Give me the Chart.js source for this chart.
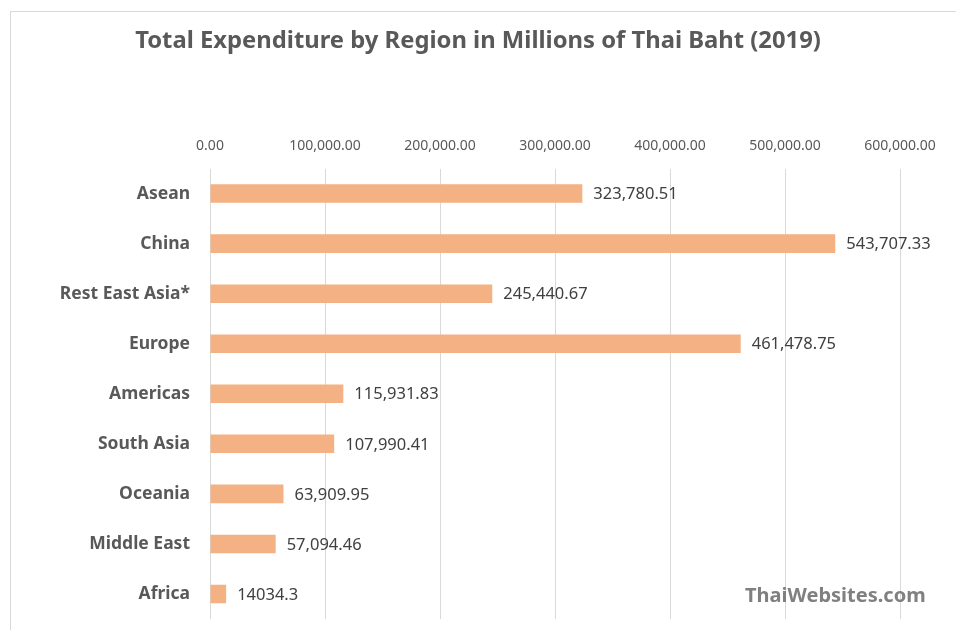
<!DOCTYPE html>
<html>
<head>
<meta charset="utf-8">
<script src="https://cdn.jsdelivr.net/npm/chart.js@4"></script>
<style>
  html, body { margin: 0; padding: 0; background: #fff; }
  #wrap { position: relative; width: 956px; height: 630px; overflow: hidden; }
  #frame { position: absolute; left: 10px; top: 11px; width: 980px; height: 660px; border: 1px solid #d9d9d9; }
  #chart { position: absolute; left: 0; top: 0; }
  #mark { position: absolute; left: 745px; top: 581px; font: bold 20px "Noto Sans", sans-serif; color: #808080; }
</style>
</head>
<body>
<div id="wrap">
  <div id="frame"></div>
  <canvas id="chart" width="956" height="630"></canvas>
  <div id="mark">ThaiWebsites.com</div>
</div>
<script>
// Spending by visitor region, millions of baht, 2019
const regions = ['Asean', 'China', 'Rest East Asia*', 'Europe', 'Americas', 'South Asia', 'Oceania', 'Middle East', 'Africa'];
const expenditure = [323780.51, 543707.33, 245440.67, 461478.75, 115931.83, 107990.41, 63909.95, 57094.46, 14034.3];
// Africa's figure is shown unformatted
const plainLabel = [false, false, false, false, false, false, false, false, true];
const tickValues = [0, 100000, 200000, 300000, 400000, 500000, 600000];

const fmt = (v) => v.toLocaleString('en-US', { minimumFractionDigits: 2, maximumFractionDigits: 2 });

// draws the value to the right of each bar
const barValues = {
    id: 'barValues',
    afterDatasetsDraw(chart) {
        const ctx = chart.ctx;
        const meta = chart.getDatasetMeta(0);
        ctx.save();
        ctx.font = '16.5px "Noto Sans", sans-serif';
        ctx.fillStyle = '#404040';
        ctx.textAlign = 'left';
        ctx.textBaseline = 'middle';
        meta.data.forEach((bar, i) => {
            const v = expenditure[i];
            const text = plainLabel[i] ? String(v) : fmt(v);
            ctx.fillText(text, bar.x + 11, bar.y + 1);
        });
        ctx.restore();
    }
};

const ctx = document.getElementById('chart').getContext('2d');
new Chart(ctx, {
    type: 'bar',
    data: {
        labels: regions,
        datasets: [{
            data: expenditure,
            backgroundColor: '#f4b183',
            barPercentage: 0.37,
            categoryPercentage: 1
        }]
    },
    options: {
        indexAxis: 'y',
        responsive: false,
        animation: false,
        layout: { autoPadding: false, padding: { top: 27, left: 10, right: 10, bottom: 11 } },
        plugins: {
            legend: { display: false },
            tooltip: { enabled: false },
            title: {
                display: true,
                text: 'Total Expenditure by Region in Millions of Thai Baht (2019)',
                color: '#595959',
                font: { family: '"Noto Sans", sans-serif', size: 23.8, weight: 'bold' },
                padding: { top: 0, bottom: 73 }
            }
        },
        scales: {
            x: {
                position: 'top',
                min: 0,
                max: 640000,
                afterBuildTicks(scale) { scale.ticks = tickValues.map(v => ({ value: v })); },
                afterFit(scale) {
                    scale.height = 40;
                    scale.paddingTop = scale.paddingBottom = 0;
                },
                grid: { color: '#d9d9d9', drawTicks: false },
                border: { display: false },
                ticks: {
                    color: '#595959',
                    padding: 14,
                    font: { family: '"Noto Sans", sans-serif', size: 14 },
                    callback: (v) => fmt(v)
                }
            },
            y: {
                afterFit(scale) {
                    scale.width = 200;
                    scale.paddingTop = scale.paddingBottom = 0;
                },
                grid: { display: false, drawTicks: false },
                border: { display: false },
                ticks: {
                    color: '#595959',
                    padding: 20,
                    font: { family: '"Noto Sans", sans-serif', size: 17.5, weight: 'bold' }
                }
            }
        }
    },
    plugins: [barValues]
});
</script>
</body>
</html>
